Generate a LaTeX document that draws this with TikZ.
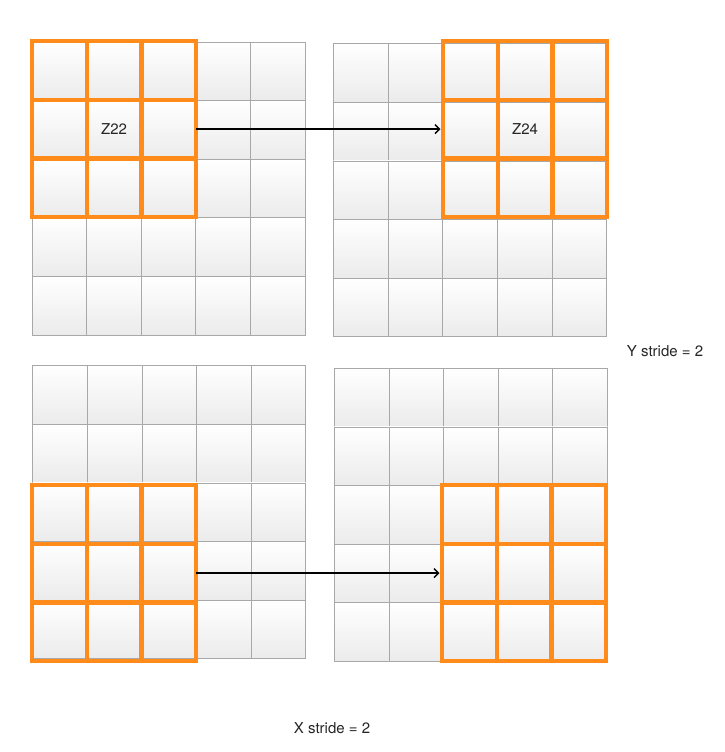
\documentclass[tikz,border=0pt]{standalone}
\usepackage{fontspec}
\setmainfont{TeX Gyre Heros}
\usetikzlibrary{arrows.meta}
\definecolor{gridgray}{HTML}{A8A8A8}
\definecolor{cellbot}{HTML}{EBEBEB}
\definecolor{orng}{HTML}{FF8C1A}
\begin{document}
\begin{tikzpicture}[x=1pt,y=-1pt,
  cell/.style={draw=gridgray, line width=0.8pt, top color=white, bottom color=cellbot,
    minimum width=54.6pt, minimum height=58.6pt, inner sep=0pt, outer sep=0pt, anchor=north west},
  win/.style={draw=orng, line width=4.4pt, minimum width=54.7pt, minimum height=58.7pt,
    inner sep=0pt, outer sep=0pt, anchor=north west},
  lbl/.style={font=\fontsize{15}{17}\selectfont, text=black!85},
  conn/.style={-{Straight Barb[length=4.5pt,width=9pt]}, line width=1.4pt, shorten >=2.5pt}]
\useasboundingbox[fill=white] (0,0) rectangle (724,752);
% grids
\foreach \gx/\gy/\g in {32/42/a, 333.5/43.7/b, 32.7/365.7/c, 334.3/368.3/d}{
  \foreach \i in {1,...,5}{
    \foreach \j in {1,...,5}{
      \node[cell] (\g-\i-\j) at ({\gx+(\j-1)*54.6},{\gy+(\i-1)*58.6}) {};
    }
  }
}
% windows
\foreach \ox/\oy/\o in {32/41/p, 443/41/q, 32/485/r, 442/485/s}{
  \foreach \i in {1,...,3}{
    \foreach \j in {1,...,3}{
      \node[win] (\o-\i-\j) at ({\ox+(\j-1)*54.7},{\oy+(\i-1)*58.7}) {};
    }
  }
}
\draw[conn] (p-2-3.east) -- (q-2-1.west);
\draw[conn] (r-2-3.east) -- (s-2-1.west);
% labels
\node[lbl] (z22) at (p-2-2) {Z22};
\node[lbl] (z24) at (q-2-2) {Z24};
\node[lbl] (ystride) at (665,351) {Y stride = 2};
\node[lbl] (xstride) at (332,728) {X stride = 2};
\end{tikzpicture}
\end{document}
